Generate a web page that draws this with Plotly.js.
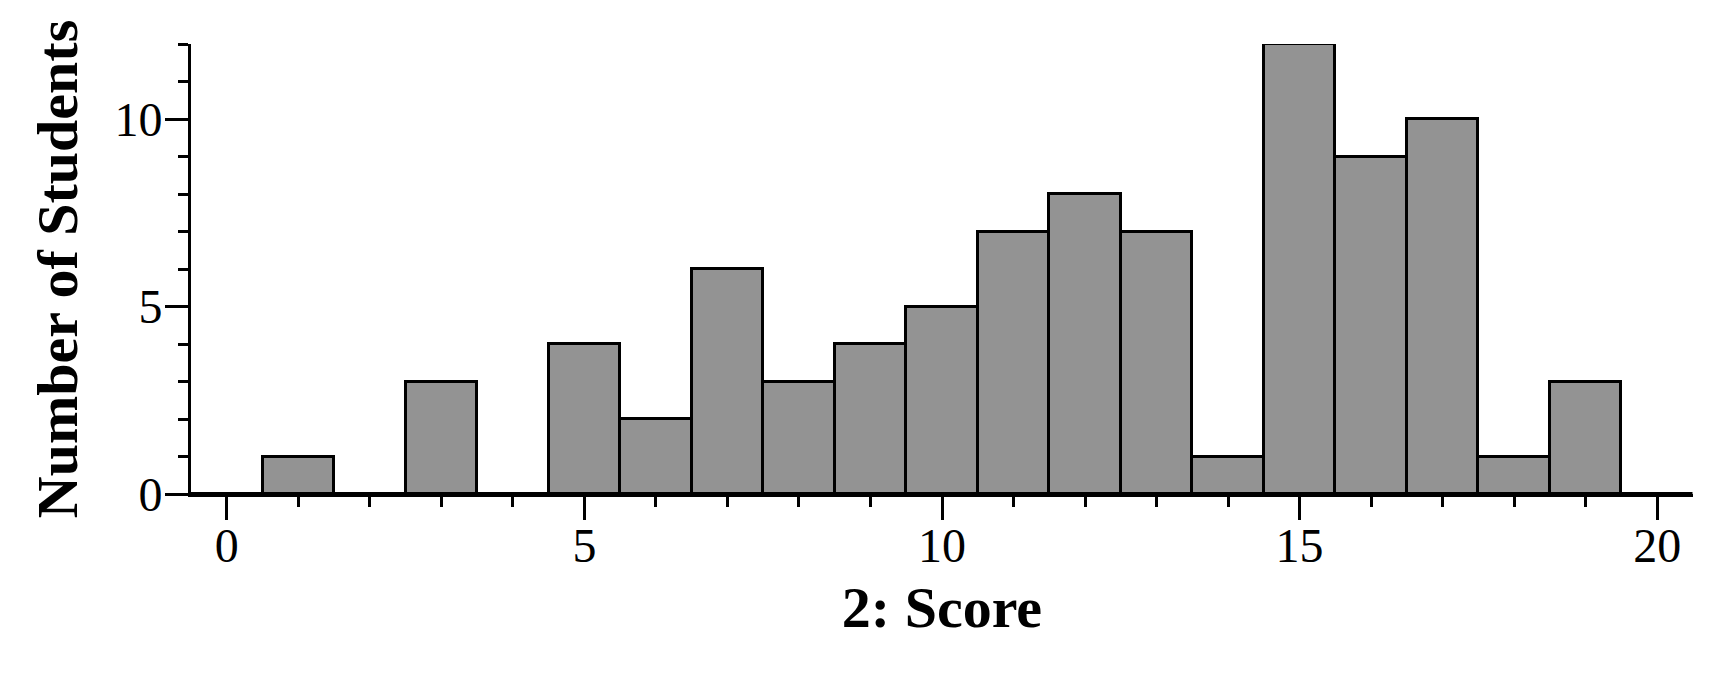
<!DOCTYPE html>
<html>
<head>
<meta charset="utf-8">
<script src="https://cdn.plot.ly/plotly-3.0.1.min.js"></script>
<style>html,body{margin:0;padding:0;background:#fff;}#chart{width:1709px;height:680px;}</style>
</head>
<body>
<div id="chart"></div>
<script>
// Score values (bin centres) and number of students in each bin
const scores = [0, 1, 2, 3, 4, 5, 6, 7, 8, 9, 10, 11, 12, 13, 14, 15, 16, 17, 18, 19, 20];
const counts = [0, 1, 0, 3, 0, 4, 2, 6, 3, 4, 5, 7, 8, 7, 1, 12, 9, 10, 1, 3, 0];
const xTickVals = [0, 5, 10, 15, 20];
const xTickText = ['0', '5', '10', '15', '20'];
const yTickVals = [0, 5, 10];
const yTickText = ['0', '5', '10'];
const xTitle = '2: Score';
const yTitle = 'Number of Students';

const serif = 'Liberation Serif, Times New Roman, serif';

const trace = {
  type: 'bar',
  x: scores,
  y: counts,
  width: 1,
  marker: {color: '#939393', line: {color: '#000', width: 3}},
  hoverinfo: 'x+y'
};

const layout = {
  width: 1709,
  height: 680,
  margin: {l: 191, r: 16, t: 44, b: 186, pad: 0},
  paper_bgcolor: '#fff',
  plot_bgcolor: '#fff',
  showlegend: false,
  bargap: 0,
  xaxis: {
    range: [-0.5, 20.5],
    tickmode: 'array',
    tickvals: xTickVals,
    ticktext: xTickText,
    ticks: 'outside',
    ticklen: 23,
    tickwidth: 3,
    tickcolor: '#000',
    ticklabelstandoff: -16,
    showline: true,
    linewidth: 3,
    linecolor: '#000',
    showgrid: false,
    zeroline: false,
    minor: {dtick: 1, tick0: 0, ticks: 'outside', ticklen: 10, tickwidth: 3, tickcolor: '#000', showgrid: false},
    tickfont: {family: serif, size: 48, color: '#000'},
    title: {text: xTitle, font: {family: serif, size: 58, color: '#000', weight: 'bold'}, standoff: 16}
  },
  yaxis: {
    range: [0, 12],
    tickmode: 'array',
    tickvals: yTickVals,
    ticktext: yTickText,
    ticks: 'outside',
    ticklen: 23,
    tickwidth: 3,
    tickcolor: '#000',
    ticklabelstandoff: -7,
    showline: true,
    linewidth: 3,
    linecolor: '#000',
    showgrid: false,
    zeroline: false,
    minor: {dtick: 1, tick0: 0, ticks: 'outside', ticklen: 10, tickwidth: 3, tickcolor: '#000', showgrid: false},
    tickfont: {family: serif, size: 48, color: '#000'},
    title: {text: yTitle, font: {family: serif, size: 58, color: '#000', weight: 'bold'}, standoff: 19}
  }
};

Plotly.newPlot('chart', [trace], layout, {displayModeBar: false, staticPlot: false});
</script>
</body>
</html>
